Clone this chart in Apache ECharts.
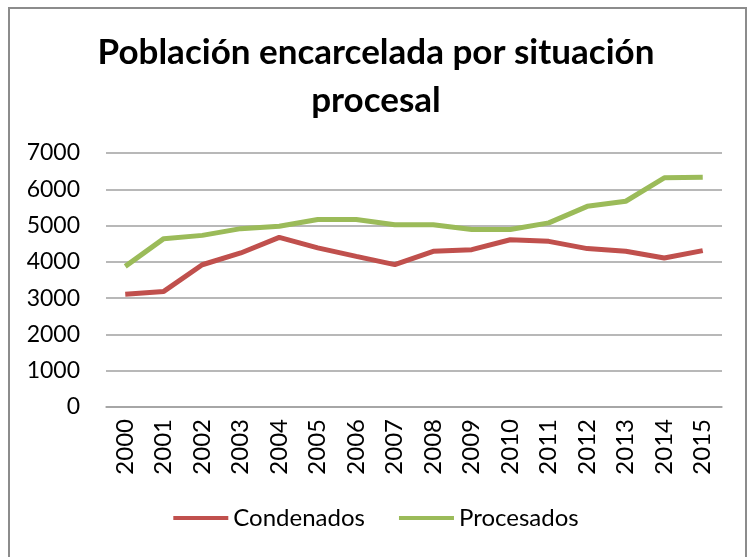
<!DOCTYPE html>
<html><head><meta charset="utf-8">
<script src="https://cdn.jsdelivr.net/npm/echarts@6/dist/echarts.min.js"></script>
<style>html,body{margin:0;padding:0;background:#fff}#c{width:752px;height:557px}</style>
</head><body><div id="c"></div>
<script>
var years = ['2000','2001','2002','2003','2004','2005','2006','2007','2008','2009','2010','2011','2012','2013','2014','2015'];
var condenados = [3110,3185,3920,4245,4675,4385,4150,3925,4290,4335,4610,4565,4365,4290,4105,4310];
var procesados = [3875,4640,4730,4915,4980,5165,5165,5020,5020,4890,4890,5075,5530,5670,6315,6335];
var yTicks = [0,1000,2000,3000,4000,5000,6000,7000];
var seriesNames = ['Condenados','Procesados'];
var FONT = 'Lato';
var chart = echarts.init(document.getElementById('c'));
chart.setOption({
  animation:false,
  backgroundColor:'#fff',
  title:{text:'Población encarcelada por situación\nprocesal',left:'center',top:24,
    textStyle:{fontFamily:FONT,fontWeight:'bold',fontSize:35,color:'#000',lineHeight:48}},
  graphic:[{type:'rect',shape:{x:9,y:8,width:737,height:560},style:{fill:'none',stroke:'#8c8c8c',lineWidth:2}}],
  legend:{bottom:22,left:'center',itemWidth:55,itemHeight:4,itemGap:34,icon:'rect',
    textStyle:{fontFamily:FONT,fontSize:24,color:'#000'},data:seriesNames},
  grid:{left:106,right:30,top:153,bottom:150},
  xAxis:{type:'category',data:years,boundaryGap:true,
    axisLine:{lineStyle:{color:'#a0a0a0',width:1.5}},axisTick:{show:false},
    axisLabel:{rotate:90,fontFamily:FONT,fontSize:24,color:'#000',margin:12}},
  yAxis:{type:'value',min:yTicks[0],max:yTicks[yTicks.length-1],interval:1000,
    axisLine:{show:false},axisTick:{show:false},
    splitLine:{lineStyle:{color:'#a0a0a0',width:1.5}},
    axisLabel:{fontFamily:FONT,fontSize:23,color:'#000',margin:26,formatter:function(v){return String(v);}}},
  series:[
    {name:seriesNames[0],type:'line',data:condenados,symbol:'none',lineStyle:{color:'#C0504D',width:5},itemStyle:{color:'#C0504D'}},
    {name:seriesNames[1],type:'line',data:procesados,symbol:'none',lineStyle:{color:'#9BBB59',width:5},itemStyle:{color:'#9BBB59'}}
  ]
});
</script></body></html>
